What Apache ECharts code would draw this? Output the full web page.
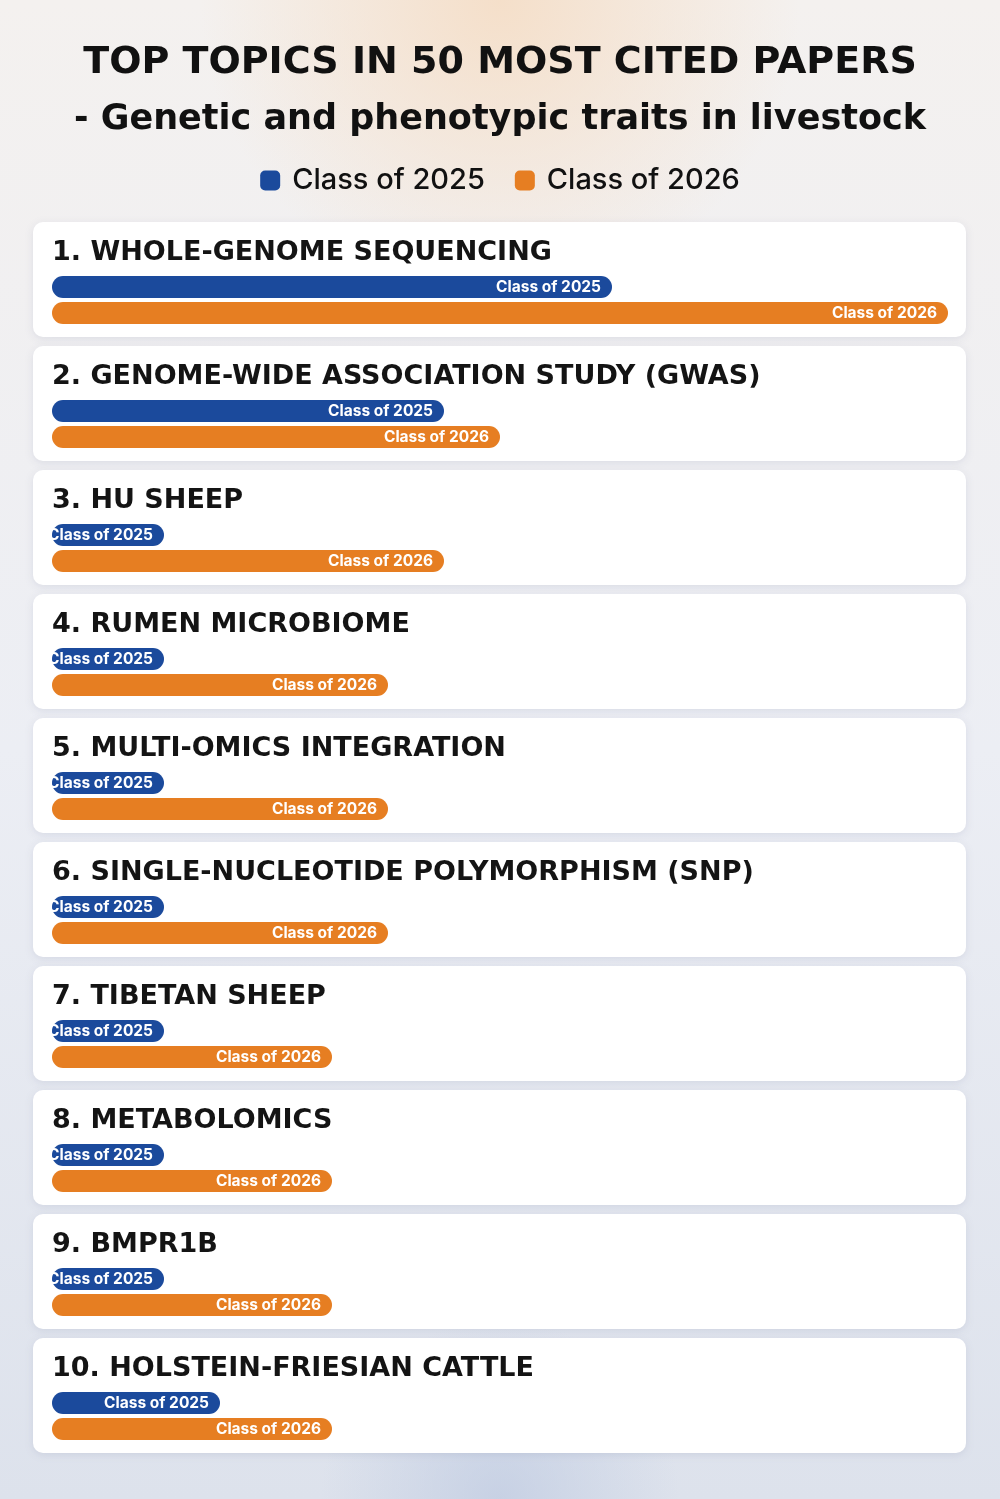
<!DOCTYPE html>
<html><head><meta charset="utf-8">
<script src="https://cdn.jsdelivr.net/npm/echarts@6/dist/echarts.min.js"></script>
<style>html,body{margin:0;padding:0;}#c{width:1000px;height:1499px;}</style>
</head><body><div id="c"></div>
<script>
const topics = [
  "1. WHOLE-GENOME SEQUENCING",
  "2. GENOME-WIDE ASSOCIATION STUDY (GWAS)",
  "3. HU SHEEP",
  "4. RUMEN MICROBIOME",
  "5. MULTI-OMICS INTEGRATION",
  "6. SINGLE-NUCLEOTIDE POLYMORPHISM (SNP)",
  "7. TIBETAN SHEEP",
  "8. METABOLOMICS",
  "9. BMPR1B",
  "10. HOLSTEIN-FRIESIAN CATTLE"
];
const seriesNames = ["Class of 2025", "Class of 2026"];
const values2025 = [10, 7, 2, 2, 2, 2, 2, 2, 2, 3];
const values2026 = [16, 8, 7, 6, 6, 6, 5, 5, 5, 5];

const FONT = "Inter";
const HFONT = "'DejaVu Sans'";
const colors = ["#1b4a9c", "#e67e22"];
const cardTop0 = 222, cardPitch = 124, cardH = 115, cardX = 33, cardW = 933;
const xMax = Math.max(...values2025, ...values2026);

const grids = [], xAxes = [], yAxes = [], series = [], graphics = [];
graphics.push({
  type: 'rect', z: -10, shape: {x: 0, y: 0, width: 1000, height: 1499},
  style: {fill: {type: 'linear', x: 0, y: 0, x2: 0, y2: 1, colorStops: [
    {offset: 0, color: '#f4f1ef'}, {offset: 0.5, color: '#eceef4'}, {offset: 1, color: '#dde2ec'}]}}
});
graphics.push({
  type: 'rect', z: -9, shape: {x: 0, y: 0, width: 1000, height: 500},
  style: {fill: {type: 'radial', x: 0.5, y: 0, r: 0.6, colorStops: [
    {offset: 0, color: 'rgba(245,220,195,0.85)'}, {offset: 1, color: 'rgba(245,220,195,0)'}]}}
});
graphics.push({
  type: 'rect', z: -9, shape: {x: 0, y: 1200, width: 1000, height: 299},
  style: {fill: {type: 'radial', x: 0.5, y: 1, r: 0.6, colorStops: [
    {offset: 0, color: 'rgba(190,202,225,0.7)'}, {offset: 1, color: 'rgba(190,202,225,0)'}]}}
});

topics.forEach((t, i) => {
  const top = cardTop0 + cardPitch * i;
  graphics.push({
    type: 'rect', z: -5,
    shape: {x: cardX, y: top, width: cardW, height: cardH, r: 10},
    style: {fill: '#ffffff', shadowBlur: 8, shadowColor: 'rgba(120,130,160,0.18)', shadowOffsetY: 2}
  });
  graphics.push({
    type: 'text', z: 5, x: 52, y: top + 31,
    style: {text: t, font: `bold 27px ${HFONT}`, fill: '#141414', textVerticalAlign: 'middle', textAlign: 'left'}
  });
  grids.push({left: 52, width: 896, top: top + 52, height: 52, containLabel: false});
  xAxes.push({gridIndex: i, type: 'value', min: 0, max: xMax, show: false});
  yAxes.push({gridIndex: i, type: 'category', data: seriesNames, inverse: true, show: false});
  [values2025, values2026].forEach((vals, k) => {
    const data = k === 0 ? [vals[i], '-'] : ['-', vals[i]];
    series.push({
      type: 'bar', name: seriesNames[k], xAxisIndex: i, yAxisIndex: i,
      data: data, barWidth: 22, barGap: '-100%',
      itemStyle: {color: colors[k], borderRadius: 11},
      label: {show: true, position: 'insideRight', distance: 11, formatter: '{a}',
        color: '#ffffff', fontFamily: FONT, fontWeight: 700, fontSize: 15.5},
      silent: true, animation: false
    });
  });
});

const chart = echarts.init(document.getElementById('c'), null, {renderer: 'canvas'});
chart.setOption({
  animation: false,
  title: [
    {text: 'TOP TOPICS IN 50 MOST CITED PAPERS', left: 'center', top: 39,
      textStyle: {fontFamily: 'DejaVu Sans', fontWeight: 'bold', fontSize: 38, color: '#111111'}},
    {text: '- Genetic and phenotypic traits in livestock', left: 'center', top: 97,
      textStyle: {fontFamily: 'DejaVu Sans', fontWeight: 'bold', fontSize: 35, color: '#111111'}}
  ],
  legend: {
    data: seriesNames, top: 161, left: 'center', itemWidth: 20, itemHeight: 20, itemGap: 30,
    icon: 'roundRect',
    textStyle: {fontFamily: FONT, fontSize: 29, fontWeight: 500, color: '#111111', padding: [0, 0, 0, 7]}
  },
  color: colors,
  grid: grids, xAxis: xAxes, yAxis: yAxes, series: series,
  graphic: graphics
});
</script></body></html>
